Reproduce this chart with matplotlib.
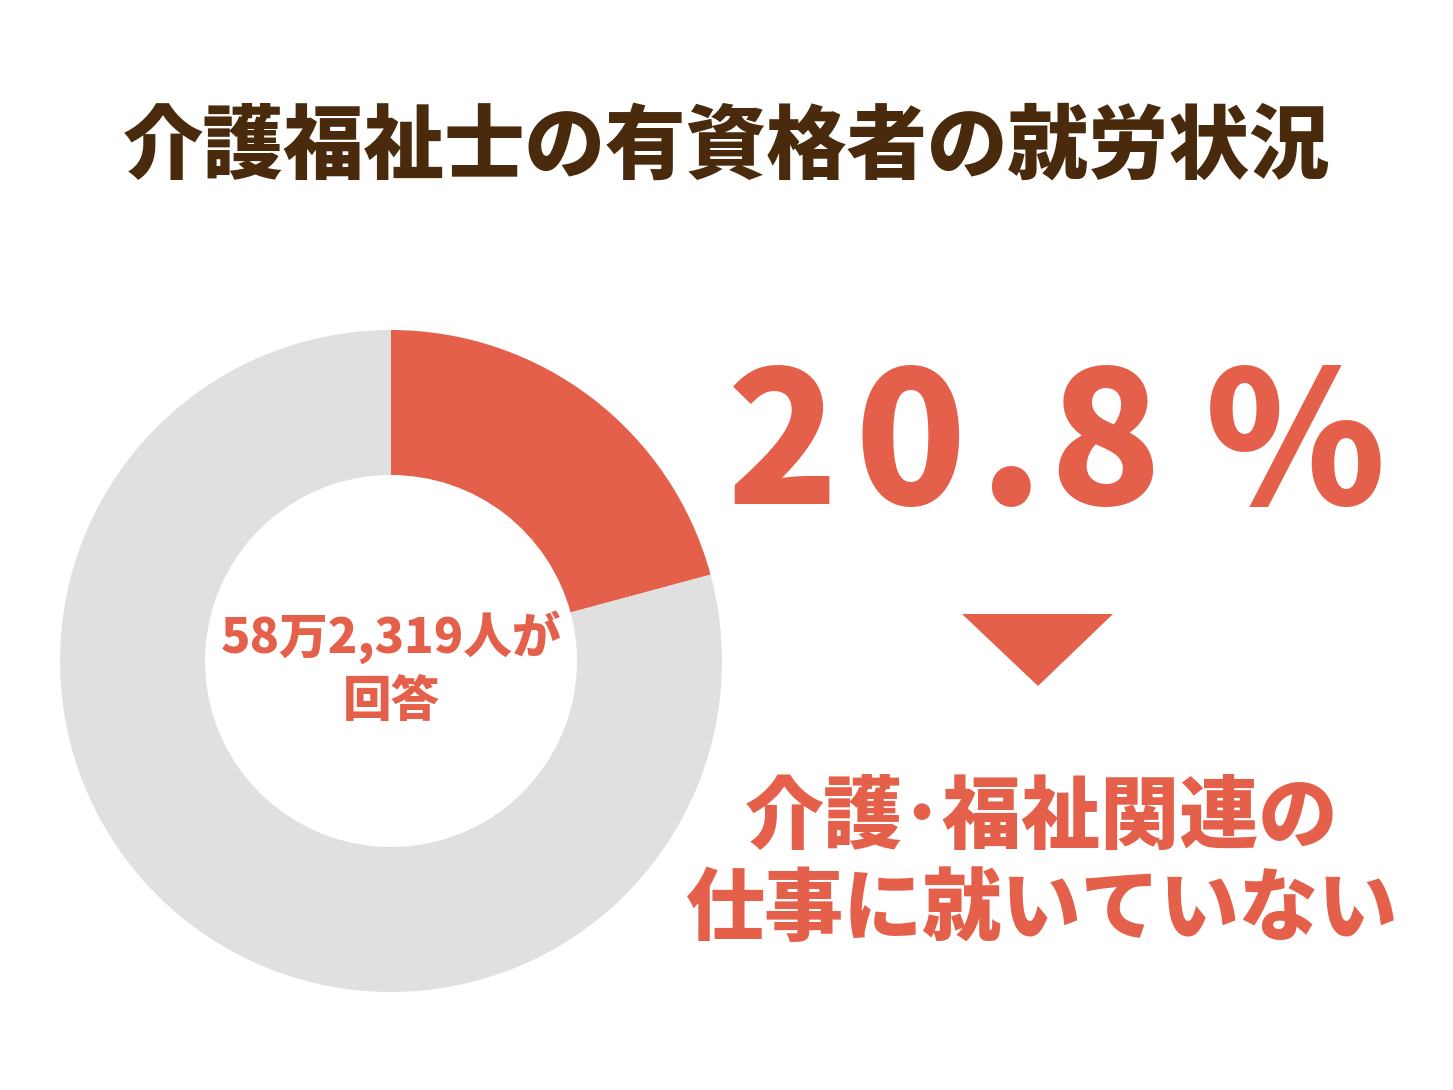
import matplotlib
matplotlib.use("Agg")
import matplotlib.pyplot as plt
from matplotlib.patches import Polygon

plt.rcParams['font.family'] = ['Noto Sans CJK JP', 'DejaVu Sans']

labels = ["介護・福祉関連の仕事に就いていない", "その他"]
shares = [20.8, 79.2]
colors = ["#e5604a", "#e0e0e0"]
title = "介護福祉士の有資格者の就労状況"
center_text = "58万2,319人が\n回答"
big_chars = ["2", "0", ".", "8", "%"]
big_char_x = [783, 910, 1010, 1105, 1295]
result_text = "介護･福祉関連の\n仕事に就いていない"

RED = "#e5604a"
W, H = 1453, 1090
fig = plt.figure(figsize=(W / 100, H / 100), dpi=100)
fig.patch.set_facecolor("white")

# donut: centre (391, 661) px, outer r 331, inner r ~186
cx, cy, r = 391, 661, 331
ax = fig.add_axes([(cx - r) / W, (H - cy - r) / H, 2 * r / W, 2 * r / H])
ax.pie(shares, colors=colors, startangle=90, counterclock=False,
       radius=1.0, wedgeprops=dict(width=1 - 186 / 331, linewidth=0))
ax.set_xlim(-1, 1)
ax.set_ylim(-1, 1)
ax.set_aspect("equal")
ax.axis("off")
ax.text(0, -0.02, center_text, ha="center", va="center", fontsize=35,
        fontweight="black", color=RED, linespacing=1.35)

fig.text(727 / W, 1 - 148 / H, title, ha="center", va="center",
         fontsize=58, fontweight="black", color="#4a2a0c")

for ch, x in zip(big_chars, big_char_x):
    fig.text(x / W, 1 - 450 / H, ch, ha="center", va="center",
             fontsize=132, fontweight="black", color=RED)

tri = Polygon([(962 / W, 1 - 614 / H), (1113 / W, 1 - 614 / H),
               (1038 / W, 1 - 686 / H)], closed=True,
              transform=fig.transFigure, facecolor=RED, edgecolor="none")
fig.patches.append(tri)

fig.text(1042 / W, 1 - 865 / H, result_text, ha="center", va="center",
         fontsize=57, fontweight="black", color=RED, linespacing=1.2)

fig.savefig("out.png", dpi=100)
